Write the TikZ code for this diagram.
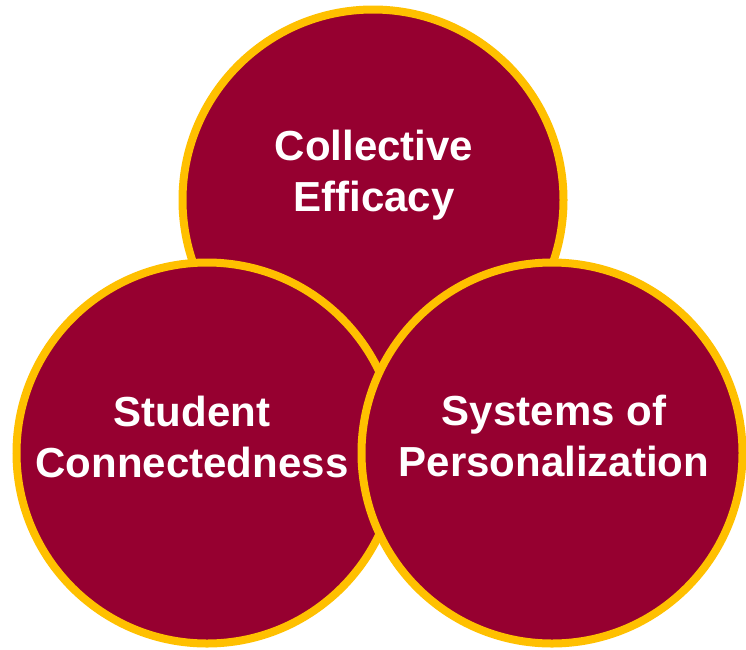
\documentclass[tikz,border=0pt]{standalone}
\usepackage{fontspec}
\setmainfont{Liberation Sans}
\definecolor{maroon}{HTML}{960030}
\definecolor{gold}{HTML}{FFC000}
\begin{document}
\begin{tikzpicture}[x=1pt,y=-1pt]
  \useasboundingbox (0,0) rectangle (746,649);
  \begin{scope}[every node/.style={circle,draw=gold,fill=maroon,line width=8pt,
      minimum size=381pt,inner sep=0pt}]
    \draw
      (373,200) node (eff){}
      (207,453) node (stu){}
      (552,453) node (sys){};
  \end{scope}
  \begin{scope}[every node/.style={text=white,align=center,anchor=base,inner sep=0pt,
      font=\bfseries\fontsize{42}{51}\selectfont}]
    \draw
      (374,211) node (efftext){Collective\\Efficacy}
      (192,477) node (stutext){Student\\Connectedness}
      (554,476) node (systext){Systems of\\Personalization};
  \end{scope}
\end{tikzpicture}
\end{document}
